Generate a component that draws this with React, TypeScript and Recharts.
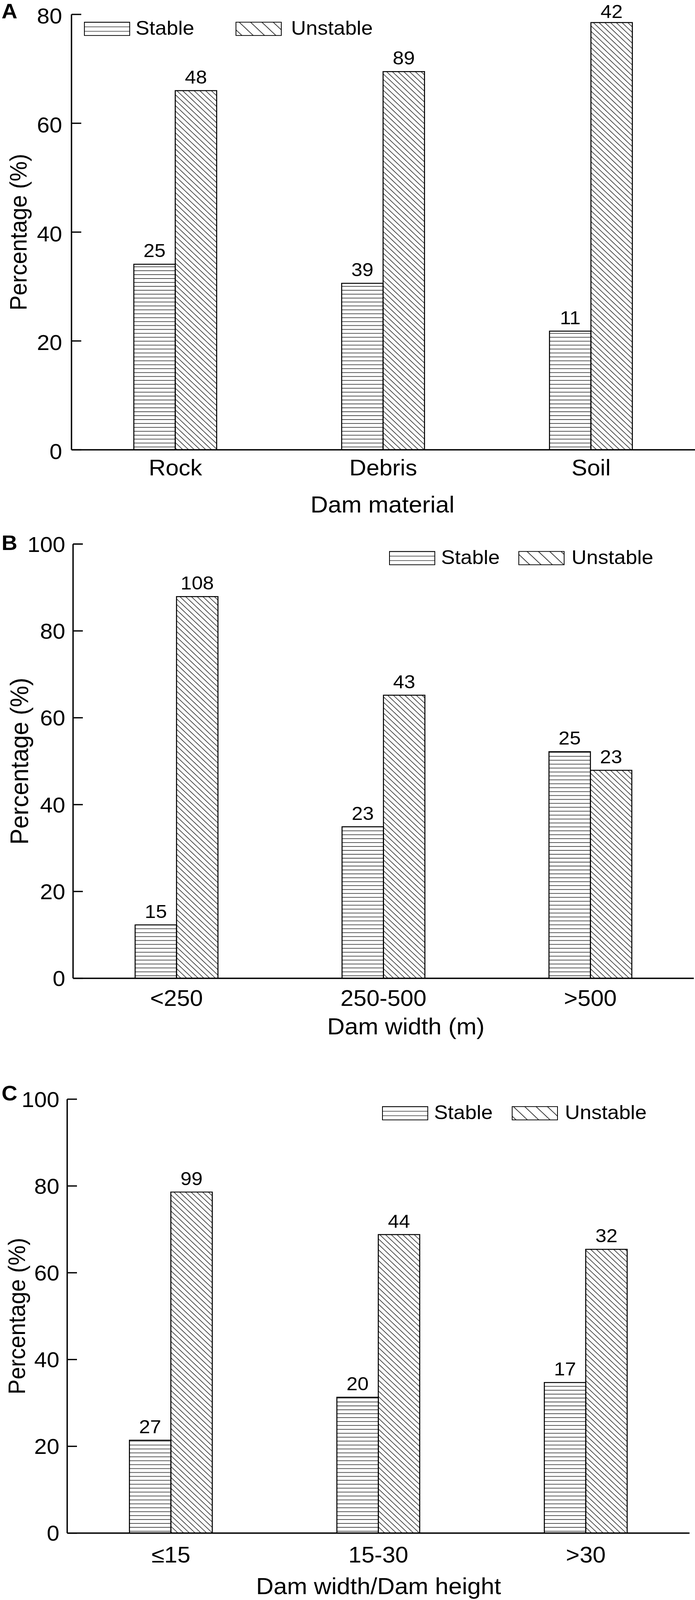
import React from 'react';
import { BarChart, Bar, XAxis, YAxis, LabelList } from 'recharts';

const FONT = '"Liberation Sans", Arial, Helvetica, sans-serif';

// Panel A: dam material
const materialCategories = ['Rock', 'Debris', 'Soil'];
const materialStablePct = [34.1, 30.6, 21.8];
const materialUnstablePct = [66.0, 69.5, 78.5];
const materialStableCount = [25, 39, 11];
const materialUnstableCount = [48, 89, 42];

// Panel B: dam width
const widthCategories = ['<250', '250-500', '>500'];
const widthStablePct = [12.3, 34.9, 52.2];
const widthUnstablePct = [87.9, 65.2, 47.9];
const widthStableCount = [15, 23, 25];
const widthUnstableCount = [108, 43, 23];

// Panel C: dam width / dam height
const ratioCategories = ['≤15', '15-30', '>30'];
const ratioStablePct = [21.4, 31.3, 34.7];
const ratioUnstablePct = [78.6, 68.8, 65.4];
const ratioStableCount = [27, 20, 17];
const ratioUnstableCount = [99, 44, 32];

const ticks80 = [0, 20, 40, 60, 80];
const ticks100 = [0, 20, 40, 60, 80, 100];
const seriesNames = ['Stable', 'Unstable'];

function buildRows(cats: string[], sp: number[], up: number[], sc: number[], uc: number[]) {
  return cats.map((c, i) => ({ cat: c, stable: sp[i], unstable: up[i], stableN: sc[i], unstableN: uc[i] }));
}

const W = 1779;
const H_FULL = 4329;
const H_SHOT = 4096;
const K = H_SHOT / H_FULL;

type PanelProps = {
  id: string;
  letter: string;
  letterX: number;
  rows: any[];
  ticks: number[];
  top: number;
  height: number;
  plotTop: number;
  plotBottom: number;
  plotLeft: number;
  plotRight: number;
  tickGap: number;
  tickDy: number;
  xTickBase: number;
  title: string;
  titleBase: number;
  titleCx: number;
  yLabelX: number;
  yLabelFont: number;
  legendX: number;
  legendY: number;
  stableTextX: number;
  unstableBoxX: number;
  unstableTextX: number;
  letterBase: number;
};

function Panel(p: PanelProps) {
  const rel = (y: number) => y - p.top;
  const pt = rel(p.plotTop);
  const pb = rel(p.plotBottom);
  const xAxisH = 10;
  const margin = { top: pt, right: W - p.plotRight, left: 0, bottom: p.height - pb - xAxisH };
  const hId = `hatchH-${p.id}`;
  const dId = `hatchD-${p.id}`;
  const lhId = `legH-${p.id}`;
  const ldId = `legD-${p.id}`;
  const ly = rel(p.legendY);
  const boxW = 116;
  const boxH = 36;

  const YTick = (props: any) => {
    const y = props.y;
    return (
      <g>
        <line x1={p.plotLeft} x2={p.plotLeft + 25} y1={y} y2={y} stroke="#000" strokeWidth={3.5} />
        <text x={p.plotLeft - p.tickGap} y={y + p.tickDy} dy="0.36em" textAnchor="end" fontSize={58} fontFamily={FONT} fill="#000">
          {props.payload.value}
        </text>
      </g>
    );
  };

  const XTick = (props: any) => (
    <text x={props.x} y={pb + (p.xTickBase - p.plotBottom)} textAnchor="middle" fontSize={60} fontFamily={FONT} fill="#000">
      {props.payload.value}
    </text>
  );

  const BarLabel = (props: any) => {
    const { x, y, width, value } = props;
    const base = Math.max(Number(y) - 19, 49);
    return (
      <text x={Number(x) + Number(width) / 2} y={base} textAnchor="middle" fontSize={51} fontFamily={FONT} fill="#000">
        {value}
      </text>
    );
  };

  const cy = (pt + pb) / 2;

  return (
    <div style={{ position: 'absolute', left: 0, top: p.top, width: W, height: p.height }}>
      <BarChart width={W} height={p.height} data={p.rows} margin={margin} barCategoryGap="30%" barGap={0}>
        <defs>
          <pattern id={hId} patternUnits="userSpaceOnUse" width={20} height={10.6}>
            <line x1={0} x2={20} y1={1} y2={1} stroke="#000" strokeWidth={1.4} />
          </pattern>
          <pattern id={dId} patternUnits="userSpaceOnUse" width={10.4} height={10.4} patternTransform="rotate(-45)">
            <line x1={1} x2={1} y1={0} y2={10.4} stroke="#000" strokeWidth={1.4} />
          </pattern>
          <pattern id={lhId} patternUnits="userSpaceOnUse" x={0} y={ly} width={40} height={12}>
            <line x1={0} x2={40} y1={0} y2={0} stroke="#000" strokeWidth={2.4} />
          </pattern>
          <pattern id={ldId} patternUnits="userSpaceOnUse" width={20.5} height={20.5} patternTransform="rotate(-45)">
            <line x1={1} x2={1} y1={0} y2={20.5} stroke="#000" strokeWidth={1.6} />
          </pattern>
        </defs>
        <XAxis
          dataKey="cat"
          height={xAxisH}
          axisLine={{ stroke: '#000', strokeWidth: 3.5 }}
          tickLine={false}
          tickSize={0}
          tickMargin={0}
          interval={0}
          tick={XTick}
        />
        <YAxis
          width={p.plotLeft}
          domain={[0, p.ticks[p.ticks.length - 1]]}
          ticks={p.ticks}
          axisLine={{ stroke: '#000', strokeWidth: 3.5 }}
          tickLine={false}
          tickSize={0}
          tickMargin={0}
          tick={YTick}
          interval={0}
        />
        <Bar dataKey="stable" name={seriesNames[0]} fill={`url(#${hId})`} stroke="#000" strokeWidth={2.6} isAnimationActive={false}>
          <LabelList dataKey="stableN" content={BarLabel} />
        </Bar>
        <Bar dataKey="unstable" name={seriesNames[1]} fill={`url(#${dId})`} stroke="#000" strokeWidth={2.6} isAnimationActive={false}>
          <LabelList dataKey="unstableN" content={BarLabel} />
        </Bar>
        <g>
          <text x={p.letterX} y={rel(p.letterBase)} fontSize={56} fontWeight="bold" fontFamily={FONT} fill="#000">{p.letter}</text>
          <text
            x={p.yLabelX}
            y={cy}
            transform={`rotate(-90 ${p.yLabelX} ${cy})`}
            textAnchor="middle"
            fontSize={p.yLabelFont}
            fontFamily={FONT}
            fill="#000"
          >
            Percentage (%)
          </text>
          <text x={p.titleCx} y={rel(p.titleBase)} textAnchor="middle" fontSize={62} fontFamily={FONT} fill="#000">{p.title}</text>
          <rect x={p.legendX} y={ly} width={boxW} height={boxH} fill={`url(#${lhId})`} stroke="#000" strokeWidth={2} />
          <text x={p.stableTextX} y={ly + boxH - 2} fontSize={53} fontFamily={FONT} fill="#000">{seriesNames[0]}</text>
          <rect x={p.unstableBoxX} y={ly} width={boxW} height={boxH} fill={`url(#${ldId})`} stroke="#000" strokeWidth={2} />
          <text x={p.unstableTextX} y={ly + boxH - 2} fontSize={53} fontFamily={FONT} fill="#000">{seriesNames[1]}</text>
        </g>
      </BarChart>
    </div>
  );
}

export default function App() {
  const rowsA = buildRows(materialCategories, materialStablePct, materialUnstablePct, materialStableCount, materialUnstableCount);
  const rowsB = buildRows(widthCategories, widthStablePct, widthUnstablePct, widthStableCount, widthUnstableCount);
  const rowsC = buildRows(ratioCategories, ratioStablePct, ratioUnstablePct, ratioStableCount, ratioUnstableCount);
  return (
    <div style={{ position: 'absolute', left: 0, top: 0, width: W, height: H_SHOT, overflow: 'hidden', background: '#fff' }}>
      <div
        style={{
          position: 'absolute',
          left: 0,
          top: 0,
          width: W,
          height: H_FULL,
          transform: `scale(1, ${K})`,
          transformOrigin: '0 0',
        }}
      >
        <Panel
          id="a" letter="A" letterX={4} rows={rowsA} ticks={ticks80}
          top={0} height={1420}
          plotTop={39} plotBottom={1217} plotLeft={183} plotRight={1779}
          tickGap={24} tickDy={4} xTickBase={1286}
          title="Dam material" titleBase={1387} titleCx={979}
          yLabelX={68} yLabelFont={61}
          legendX={216} legendY={60} stableTextX={347} unstableBoxX={604} unstableTextX={745}
          letterBase={50}
        />
        <Panel
          id="b" letter="B" letterX={4} rows={rowsB} ticks={ticks100}
          top={1420} height={1450}
          plotTop={1472} plotBottom={2647} plotLeft={187} plotRight={1776}
          tickGap={20} tickDy={0} xTickBase={2722}
          title="Dam width (m)" titleBase={2799} titleCx={1039}
          yLabelX={72} yLabelFont={65}
          legendX={997} legendY={1492} stableTextX={1129} unstableBoxX={1328} unstableTextX={1463}
          letterBase={1488}
        />
        <Panel
          id="c" letter="C" letterX={4} rows={rowsC} ticks={ticks100}
          top={2870} height={1459}
          plotTop={2974} plotBottom={4148} plotLeft={172} plotRight={1765}
          tickGap={20} tickDy={0} xTickBase={4228}
          title="Dam width/Dam height" titleBase={4313} titleCx={969}
          yLabelX={64} yLabelFont={61}
          legendX={979} legendY={2994} stableTextX={1111} unstableBoxX={1311} unstableTextX={1446}
          letterBase={2977}
        />
      </div>
    </div>
  );
}
